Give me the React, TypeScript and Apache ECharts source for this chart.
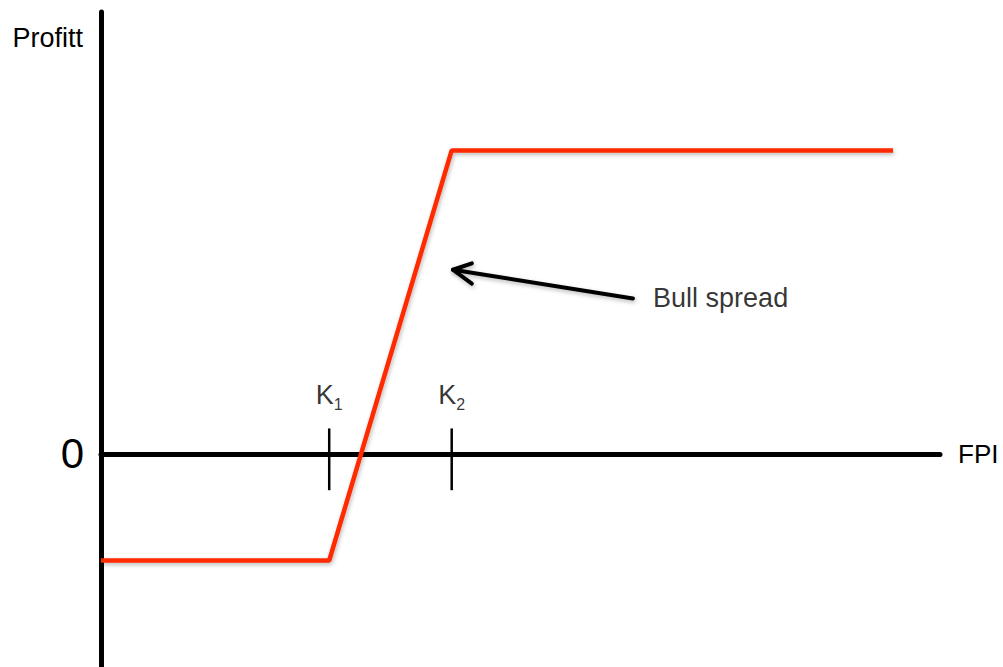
import React, { useEffect, useRef } from "react";
import * as echarts from "echarts";

// Payoff of a bull spread (x: FPI, y: profit)
const fpi = [0, 27.2, 41.8, 94.4];
const profit = [-1, -1, 2.85, 2.85];

// Strike prices and their subscripts
const strikes = [27.2, 41.8];
const strikeSubs = ["1", "2"];
const tickTop = 0.24;
const tickBottom = -0.34;
const strikeLabelY = 0.57;

// Annotation arrow (tail -> tip) and its head barbs
const arrowShaftX = [63.4, 41.95];
const arrowShaftY = [1.46, 1.73];
const arrowHeadX = [44.2, 41.95, 44.2];
const arrowHeadY = [1.79, 1.73, 1.6];
const annotationPos = [65.8, 1.46];
const annotationText = "Bull spread";

const FONT = "Liberation Sans, Arial, Helvetica, sans-serif";
const RED = "#ff2a00";
const shadow = {
  shadowColor: "rgba(0,0,0,0.28)",
  shadowBlur: 4,
  shadowOffsetX: 1,
  shadowOffsetY: 2,
};

export default function App() {
  const ref = useRef<HTMLDivElement>(null);

  useEffect(() => {
    if (!ref.current) return;
    const chart = echarts.init(ref.current, undefined, { renderer: "svg" });

    const tickSeries = strikes.map((k) => ({
      type: "line",
      silent: true,
      symbol: "none",
      data: [
        [k, tickTop],
        [k, tickBottom],
      ],
      lineStyle: { color: "#000", width: 2.5 },
      z: 3,
    }));

    const labelSeries = {
      type: "scatter",
      silent: true,
      symbolSize: 0,
      data: strikes.map((k, i) => ({ value: [k, strikeLabelY], sub: strikeSubs[i] })),
      label: {
        show: true,
        position: "inside",
        formatter: (p: any) => `{k|K}{s|${p.data.sub}}`,
        rich: {
          k: { fontSize: 27, fontFamily: FONT, color: "#000", verticalAlign: "bottom", lineHeight: 30 },
          s: { fontSize: 16, fontFamily: FONT, color: "#000", verticalAlign: "bottom", lineHeight: 20, padding: [0, 0, -4, 0] },
        },
      },
      z: 5,
    };

    const option: any = {
      animation: false,
      backgroundColor: "#fff",
      grid: { left: 101, right: 63, top: 12, bottom: 0, containLabel: false },
      xAxis: {
        type: "value",
        min: 0,
        max: 100,
        name: "FPI",
        nameLocation: "end",
        nameGap: 18,
        nameTextStyle: { fontSize: 26, fontFamily: FONT, color: "#000", verticalAlign: "middle" },
        axisLine: { show: true, onZero: true, lineStyle: { color: "#000", width: 5 } },
        axisTick: { show: false },
        axisLabel: { show: false },
        splitLine: { show: false },
        z: 2,
      },
      yAxis: {
        type: "value",
        min: -2,
        max: 4.15,
        interval: 1,
        name: "Profitt",
        nameLocation: "end",
        nameGap: -26,
        nameTextStyle: {
          fontSize: 27,
          fontFamily: FONT,
          color: "#000",
          align: "right",
          verticalAlign: "middle",
          padding: [0, 18, 0, 0],
        },
        axisLine: { show: true, onZero: false, lineStyle: { color: "#000", width: 5 } },
        axisTick: { show: false },
        axisLabel: {
          show: true,
          margin: 17,
          fontSize: 42,
          fontFamily: FONT,
          color: "#000",
          formatter: (v: number) => (v === 0 ? "0" : ""),
        },
        splitLine: { show: false },
        z: 2,
      },
      series: [
        {
          type: "line",
          silent: true,
          symbol: "none",
          data: fpi.map((x, i) => [x, profit[i]]),
          lineStyle: { color: RED, width: 4.5, ...shadow },
          z: 4,
        },
        ...tickSeries,
        labelSeries,
        {
          type: "line",
          silent: true,
          symbol: "none",
          data: arrowShaftX.map((x, i) => [x, arrowShaftY[i]]),
          lineStyle: { color: "#000", width: 4, cap: "round", ...shadow },
          z: 4,
        },
        {
          type: "line",
          silent: true,
          symbol: "none",
          data: arrowHeadX.map((x, i) => [x, arrowHeadY[i]]),
          lineStyle: { color: "#000", width: 4, cap: "round", join: "round", ...shadow },
          z: 4,
        },
        {
          type: "scatter",
          silent: true,
          symbolSize: 0,
          data: [annotationPos],
          label: {
            show: true,
            position: "right",
            distance: 0,
            formatter: annotationText,
            fontSize: 27,
            fontFamily: FONT,
            color: "#000",
          },
          z: 5,
        },
      ],
    };

    chart.setOption(option);
    return () => chart.dispose();
  }, []);

  return (
    <div
      ref={ref}
      style={{ position: "fixed", left: 0, top: 0, width: 1003, height: 667 }}
    />
  );
}
